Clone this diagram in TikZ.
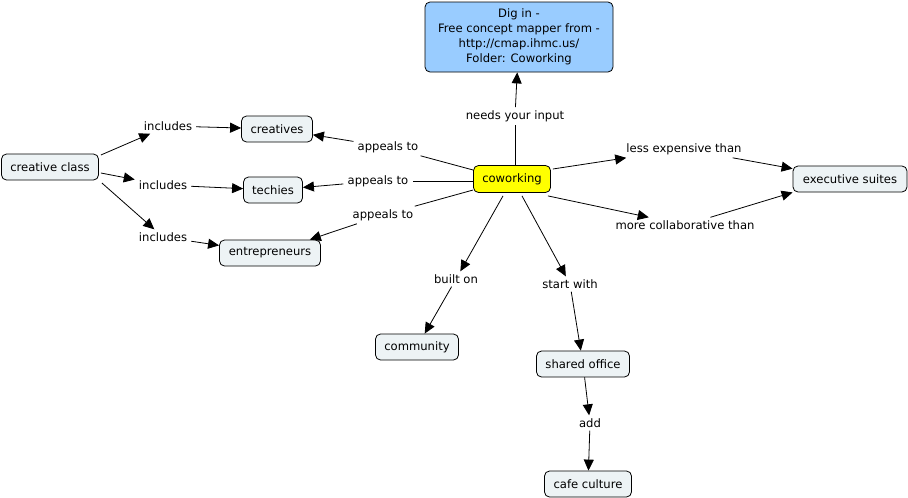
\documentclass[tikz,border=0pt]{standalone}
\usepackage{fontspec}
\setmainfont{DejaVu Sans}
\usetikzlibrary{arrows.meta}
\definecolor{cbox}{HTML}{EDF3F5}
\definecolor{cblue}{HTML}{99CCFF}
\definecolor{cyel}{HTML}{FFFF00}
\tikzset{
  concept/.style={draw=black, line width=0.8pt, rounded corners=5pt, fill=cbox,
    minimum height=26pt, inner xsep=2pt, font=\fontsize{11.6}{13}\selectfont},
  lab/.style={inner xsep=4pt, inner ysep=3pt, font=\fontsize{11.6}{13}\selectfont},
  link/.style={line width=0.8pt},
  arr/.style={line width=0.8pt, -{Triangle[length=11pt,width=10pt]}},
}
\begin{document}
\begin{tikzpicture}[x=1pt,y=-1pt]
\useasboundingbox (0,0) rectangle (908,498);
% concepts
\node[concept, fill=cblue, minimum width=188pt, minimum height=70pt, align=center, font=\fontsize{11.6}{15}\selectfont] (dig) at (519,37)
  {Dig in -\\Free concept mapper from -\\http://cmap.ihmc.us/\\Folder: Coworking};
\node[concept, minimum width=97pt] (cc) at (50,167) {creative class};
\node[concept, minimum width=71pt] (cre) at (277,129) {creatives};
\node[concept, minimum width=59pt] (tec) at (273,190) {techies};
\node[concept, minimum width=101pt] (ent) at (270,253) {entrepreneurs};
\node[concept, fill=cyel, minimum width=77pt, minimum height=27pt] (cw) at (512,179) {coworking};
\node[concept, minimum width=114pt] (exe) at (850,179) {executive suites};
\node[concept, minimum width=83pt] (com) at (417,347) {community};
\node[concept, minimum width=93pt] (sho) at (583,364) {shared office};
\node[concept, minimum width=87pt] (caf) at (588,484) {cafe culture};
% linking phrases
\node[lab] (need) at (515,116) {needs your input};
\node[lab] (inc1) at (168,126) {includes};
\node[lab] (inc2) at (163,185) {includes};
\node[lab] (inc3) at (163,237) {includes};
\node[lab] (ap1) at (388,147) {appeals to};
\node[lab] (ap2) at (378,181) {appeals to};
\node[lab] (ap3) at (383,215) {appeals to};
\node[lab] (less) at (684,149) {less expensive than};
\node[lab] (more) at (685,225) {more collaborative than};
\node[lab] (built) at (456,279) {built on};
\node[lab] (start) at (570,284) {start with};
\node[lab] (add) at (590,423) {add};
% connectors
\draw[arr] ([xshift=2pt,yshift=12pt]cc.east) -- (inc1);
\draw[arr] (inc1) -- (cre);
\draw[arr] ([xshift=2pt,yshift=-6pt]cc.east) -- (inc2);
\draw[arr] ([xshift=3pt,yshift=-16pt]cc.east) -- (inc3);
\draw[arr] (inc2) -- (tec);
\draw[arr] (inc3) -- (ent);
\draw[link] ([yshift=9pt]cw.west) -- (ap1);
\draw[arr] (ap1) -- (cre);
\draw[link] ([yshift=-2pt]cw.west) -- (ap2);
\draw[arr] (ap2) -- (tec);
\draw[link] ([yshift=-11pt]cw.west) -- (ap3);
\draw[arr] (ap3) -- (ent);
\draw[link] ([xshift=3pt]cw.north) -- (need);
\draw[arr] (need) -- (dig);
\draw[arr] ([xshift=2pt,yshift=10pt]cw.east) -- (less);
\draw[arr] (less) -- (exe);
\draw[arr] ([xshift=-3pt,yshift=-3pt]cw.south east) -- (more);
\draw[arr] (more) -- (exe.south west);
\draw[arr] ([xshift=-9pt,yshift=-3pt]cw.south) -- (built);
\draw[arr] (built) -- (com);
\draw[arr] ([xshift=10pt,yshift=-3pt]cw.south) -- (start);
\draw[arr] (start) -- (sho);
\draw[arr] (sho) -- (add);
\draw[arr] (add) -- (caf);
\end{tikzpicture}
\end{document}
